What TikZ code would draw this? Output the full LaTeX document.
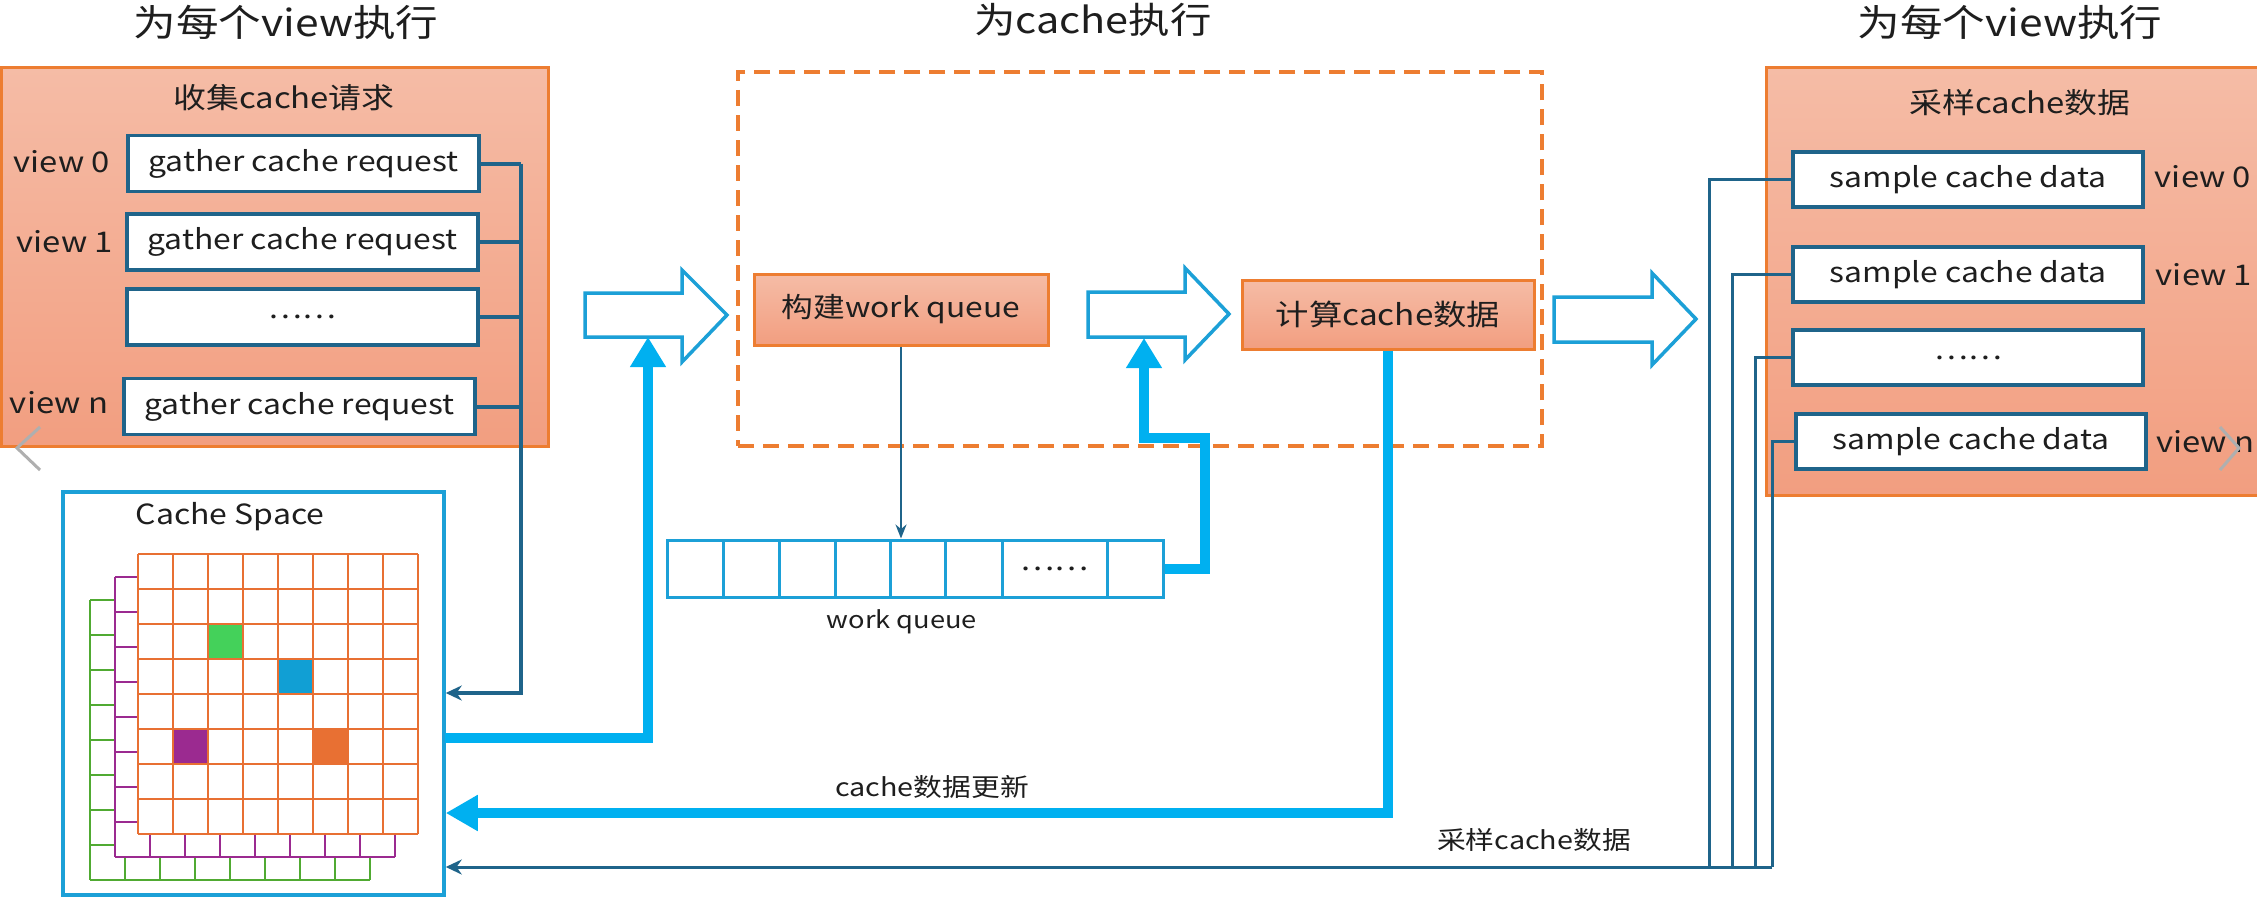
\documentclass[tikz,border=0pt]{standalone}
\usepackage{fontspec}
\setmainfont{Noto Sans CJK SC}[FakeStretch=1.15]
\usetikzlibrary{arrows.meta,calc}
\definecolor{orb}{RGB}{237,125,49}
\definecolor{ortop}{RGB}{245,188,166}
\definecolor{orbot}{RGB}{242,158,128}
\definecolor{dteal}{RGB}{31,100,138}
\definecolor{bline}{RGB}{28,160,215}
\definecolor{cyanb}{RGB}{0,176,240}
\definecolor{gridor}{RGB}{232,112,51}
\definecolor{gridpu}{RGB}{155,42,144}
\definecolor{gridgr}{RGB}{80,170,50}
\definecolor{cellgr}{RGB}{68,209,90}
\definecolor{cellbl}{RGB}{17,159,212}
\definecolor{txt}{RGB}{30,30,30}
\definecolor{chev}{RGB}{175,175,175}
\newcommand\myfs[1]{\fontsize{#1}{#1}\selectfont}
\begin{document}
\begin{tikzpicture}[x=1pt,y=-1pt,
  every node/.style={text=txt, inner sep=0pt},
  panel/.style={draw=orb, line width=3pt, top color=ortop, bottom color=orbot},
  wbox/.style={draw=dteal, line width=3.5pt, fill=white, minimum width=351pt, minimum height=56pt, font=\myfs{27.7}},
  obox/.style={draw=orb, line width=3pt, top color=ortop, bottom color=orbot, font=\myfs{29}},
  hollow/.style={draw=bline, line width=3.5pt, fill=white, line join=miter},
  thickc/.style={draw=cyanb, line width=10pt, line join=miter},
  thinc/.style={draw=dteal, line width=3pt},
  lbl/.style={font=\myfs{28.5}},
  ttl/.style={font=\myfs{37}},
  captxt/.style={font=\myfs{25}}
]
\useasboundingbox (0,0) rectangle (2257,899);
\fill[white] (0,0) rectangle (2257,899);

% titles
\node[ttl] (t1) at (286,22) {为每个view执行};
\node[ttl, font=\myfs{36}] (t2) at (1093,20) {为cache执行};
\node[ttl] (t3) at (2010,22) {为每个view执行};

% left panel
\node[panel, minimum width=547pt, minimum height=378pt] (lp) at (274.5,257) {};
\node[font=\myfs{28.6}] (lpt) at (284,98) {收集cache请求};
\node[wbox] (g0) at (303.5,163.5) {gather cache request};
\node[wbox] (g1) at (302.5,242) {gather cache request};
\node[wbox] (gd) at (302.5,317) {……};
\node[wbox] (gn) at (299.5,406.5) {gather cache request};
\node[lbl] (v0) at (62,162) {view 0};
\node[lbl] (v1) at (65,242) {view 1};
\node[lbl] (vn) at (59,403) {view n};
\draw[chev, line width=3pt] (40,427) -- (17,448) -- (40,470);

% cache space
\node[draw=bline, line width=3.5pt, minimum width=381pt, minimum height=403pt] (cs) at (253.5,693.5) {};
\node[font=\myfs{27.8}] (cst) at (230,517) {Cache Space};
\foreach \ox/\oy/\c in {90/600/gridgr, 115/577/gridpu} {
  \fill[white] (\ox,\oy) rectangle ++(280,280);
  \foreach \i in {0,...,8} {
    \draw[\c, line width=2.7pt] (\ox+35*\i,\oy) -- (\ox+35*\i,\oy+280);
    \draw[\c, line width=2.7pt] (\ox,\oy+35*\i) -- (\ox+280,\oy+35*\i);
  }
}
\fill[white] (138,554) rectangle ++(280,280);
\fill[cellgr] (138+70,554+70) rectangle ++(35,35);
\fill[cellbl] (138+140,554+105) rectangle ++(35,35);
\fill[gridpu] (138+35,554+175) rectangle ++(35,35);
\fill[gridor] (138+175,554+175) rectangle ++(35,35);
\foreach \i in {0,...,8} {
  \draw[gridor, line width=2.7pt] (138+35*\i,554) -- (138+35*\i,834);
  \draw[gridor, line width=2.7pt] (138,554+35*\i) -- (418,554+35*\i);
}

% gather connectors
\coordinate (ga) at (521,693);
\foreach \b in {g0,g1,gd,gn} \draw[thinc, line width=4pt] (\b.east) -- (\b.east -| ga);
\draw[thinc, line width=4pt, -{Stealth[length=16pt,width=15pt]}] (g0.east -| ga) -- (ga) -- (ga -| cs.east);

% group box
\node[draw=orb, line width=4pt, dash pattern=on 16pt off 9pt, minimum width=804pt, minimum height=374pt] (grp) at (1140,259) {};
\node[obox, font=\myfs{27.6}, minimum width=294pt, minimum height=71pt] (wq) at (901,309.5) {构建work queue};
\node[obox, minimum width=292pt, minimum height=69pt] (cc) at (1388,314.5) {计算cache数据};

% hollow arrows
\draw[hollow] (585,293) -- (682,293) -- (682,270) -- (727,315) -- (682,362) -- (682,337) -- (585,337) -- cycle;
\draw[hollow] (1088,292) -- (1185,292) -- (1185,268) -- (1229,314) -- (1185,360) -- (1185,337) -- (1088,337) -- cycle;
\draw[hollow] (1554,297) -- (1652,297) -- (1652,273) -- (1696,319) -- (1652,365) -- (1652,342) -- (1554,342) -- cycle;
\coordinate (h1b) at (648,337);
\coordinate (h2b) at (1144,338);

% queue
\node[draw=bline, line width=3pt, minimum width=496pt, minimum height=57pt] (q) at (915,568.5) {};
\foreach \xx in {723,779,835,890,945,1002,1107} \draw[bline, line width=3pt] (\xx,540) -- (\xx,597);
\node[font=\myfs{28}] (qd) at (1054.5,568.5) {……};
\node[font=\myfs{23.7}] (qt) at (902,622) {work queue};
\draw[dteal, line width=2pt, -{Stealth[length=14pt,width=11pt]}] (wq.south) -- (wq.south |- q.north);

% thick cyan connectors
\draw[thickc, -{Triangle[length=30pt,width=34pt]}] ($(cs.east)+(-1,44.5)$) -- (648,738) -- (h1b);
\draw[thickc, -{Triangle[length=30pt,width=34pt]}] (q.east) -- (1205,568.5) -- (1205,438) -- (1144,438) -- (h2b);
\coordinate (t3c) at (1388,813);
\draw[thickc, -{Triangle[length=32pt,width=34pt]}] (cc.south) -- (t3c) -- (t3c -| cs.east);
\node[captxt] (lu) at (932,787) {cache数据更新};

% right panel
\node[panel, minimum width=500pt, minimum height=427pt] (rp) at (2016,281.5) {};
\node[font=\myfs{28.6}] (rpt) at (2020,103) {采样cache数据};
\node[wbox, minimum width=350pt, minimum height=55pt] (s0) at (1968,179.5) {sample cache data};
\node[wbox, minimum width=350pt, minimum height=55pt] (s1) at (1968,274.5) {sample cache data};
\node[wbox, minimum width=350pt, minimum height=55pt] (sd) at (1968,357.5) {……};
\node[wbox, minimum width=350pt, minimum height=55pt] (sn) at (1971,441.5) {sample cache data};
\node[lbl] (w0) at (2203,177) {view 0};
\node[lbl] (w1) at (2204,275) {view 1};
\node[lbl] (wn) at (2205,442) {view n};
\draw[chev, line width=3pt] (2220,427) -- (2239,448) -- (2220,470);

% sample connectors
\coordinate (b0) at (1709,867);
\coordinate (b1) at (1732,867);
\coordinate (b2) at (1755,867);
\coordinate (b3) at (1772,867);
\draw[thinc] (s0.west) -- (s0.west -| b0) -- (b0);
\draw[thinc] (s1.west) -- (s1.west -| b1) -- (b1);
\draw[thinc] (sd.west) -- (sd.west -| b2) -- (b2);
\draw[thinc] (sn.west) -- (sn.west -| b3) -- (b3);
\draw[thinc, -{Stealth[length=16pt,width=15pt]}] (b3) -- (b3 -| cs.east);
\node[captxt] (ls) at (1534,840) {采样cache数据};
\end{tikzpicture}
\end{document}
